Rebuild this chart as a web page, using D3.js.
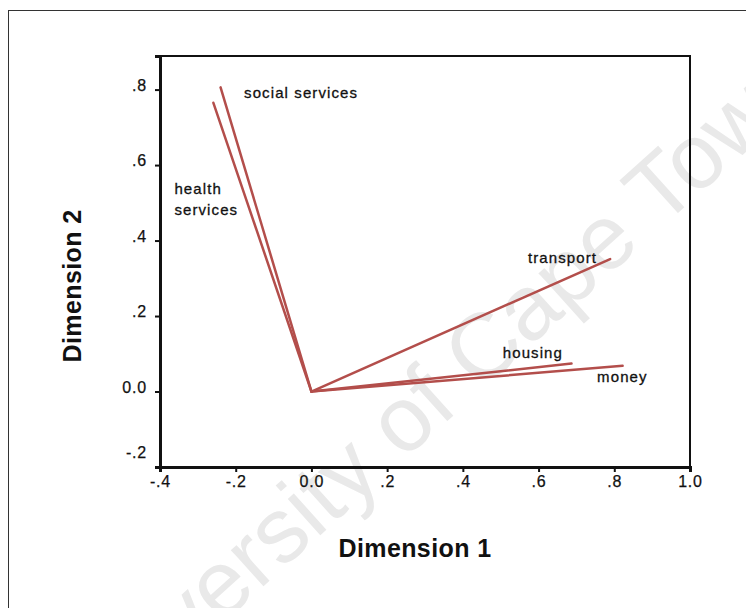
<!DOCTYPE html>
<html>
<head>
<meta charset="utf-8">
<script src="https://cdn.jsdelivr.net/npm/d3@7"></script>
<style>
  html, body { margin: 0; padding: 0; background: #fff; }
  svg { display: block; font-family: "Liberation Sans", Arial, sans-serif; }
</style>
</head>
<body>
<svg id="chart" width="746" height="608"></svg>
<script>
// Variables and their loadings on the two dimensions
const variables = ["social services", "health services", "transport", "housing", "money"];
const dim1 = [-0.24, -0.259, 0.789, 0.687, 0.822];
const dim2 = [0.806, 0.765, 0.351, 0.074, 0.068];

const xTicks = [-0.4, -0.2, 0.0, 0.2, 0.4, 0.6, 0.8, 1.0];
const xTickLabels = ["-.4", "-.2", "0.0", ".2", ".4", ".6", ".8", "1.0"];
const yTicks = [-0.2, 0.0, 0.2, 0.4, 0.6, 0.8];
const yTickLabels = ["-.2", "0.0", ".2", ".4", ".6", ".8"];

const FONT = "'Liberation Sans', Arial, sans-serif";
const svg = d3.select("#chart");

// outer figure frame
svg.append("rect")
  .attr("x", 8.5).attr("y", 10.5)
  .attr("width", 746).attr("height", 608)
  .attr("fill", "none").attr("stroke", "#333").attr("stroke-width", 1);

// faint watermark
svg.append("text")
  .attr("transform", "translate(84,748) rotate(-42)")
  .attr("font-family", FONT)
  .attr("font-size", 92)
  .attr("fill", "#e9e9e9")
  .text("University of Cape Town");

const plot = { left: 160, right: 690, top: 56, bottom: 467 };
const x = d3.scaleLinear().domain([-0.4, 1.0]).range([plot.left, plot.right]);
const y = d3.scaleLinear().domain([-0.2, 0.889]).range([plot.bottom, plot.top]);

// plot box
svg.append("rect")
  .attr("x", plot.left).attr("y", plot.top)
  .attr("width", plot.right - plot.left).attr("height", plot.bottom - plot.top)
  .attr("fill", "none").attr("stroke", "#111").attr("stroke-width", 2);

// axes
const xAxis = d3.axisBottom(x).tickValues(xTicks)
  .tickFormat((d, i) => xTickLabels[i]).tickSize(5).tickPadding(4);
const gx = svg.append("g").attr("transform", `translate(0,${plot.bottom})`).call(xAxis);
gx.select(".domain").attr("stroke", "#111").attr("stroke-width", 3);
gx.selectAll(".tick line").attr("stroke", "#111").attr("stroke-width", 2);
gx.selectAll(".tick text").attr("font-size", 16).attr("fill", "#111")
  .attr("font-family", FONT).attr("letter-spacing", "0.8px")
  .attr("stroke", "#111").attr("stroke-width", 0.25);

const yAxis = d3.axisLeft(y).tickValues(yTicks)
  .tickFormat((d, i) => yTickLabels[i]).tickSize(5).tickPadding(8);
const gy = svg.append("g").attr("transform", `translate(${plot.left},0)`).call(yAxis);
gy.select(".domain").attr("stroke", "#111").attr("stroke-width", 3);
gy.selectAll(".tick line").attr("stroke", "#111").attr("stroke-width", 2);
gy.selectAll(".tick text").attr("font-size", 16).attr("fill", "#111")
  .attr("font-family", FONT).attr("letter-spacing", "0.8px").attr("dy", "0.03em")
  .attr("stroke", "#111").attr("stroke-width", 0.25);
// lowest label sits above the bottom axis line
gy.selectAll(".tick").filter(d => d === -0.2).select("text").attr("dy", "-0.6em");
gy.selectAll(".tick").filter(d => d === -0.2).select("line").remove();

// loading vectors from origin
svg.append("g").selectAll("line")
  .data(variables)
  .join("line")
  .attr("x1", x(0)).attr("y1", y(0))
  .attr("x2", (d, i) => x(dim1[i]))
  .attr("y2", (d, i) => y(dim2[i]))
  .attr("stroke", "#b34e4b")
  .attr("stroke-width", 2.5)
  .attr("stroke-linecap", "round");

// variable labels, offset from each vector's tip
const labelPos = {
  "social services": { dx: 23.5, dy: 11, anchor: "start" },
  "transport": { dx: -13, dy: 4, anchor: "end" },
  "housing": { dx: -8.5, dy: -5.5, anchor: "end" },
  "money": { dx: -25.5, dy: 16, anchor: "start" }
};
const lbl = svg.append("g")
  .attr("font-size", 15).attr("fill", "#111").attr("letter-spacing", "1.1px")
  .attr("stroke", "#111").attr("stroke-width", 0.3);
variables.forEach((v, i) => {
  if (v === "health services") {
    const lx = x(dim1[i]) - 39;
    const t = lbl.append("text").attr("x", lx).attr("y", y(dim2[i]) + 91);
    t.append("tspan").attr("x", lx).text("health");
    t.append("tspan").attr("x", lx).attr("dy", 21.7).text("services");
  } else {
    const p = labelPos[v];
    lbl.append("text")
      .attr("x", x(dim1[i]) + p.dx).attr("y", y(dim2[i]) + p.dy)
      .attr("text-anchor", p.anchor)
      .text(v);
  }
});

// axis titles
svg.append("text")
  .attr("x", 415).attr("y", 557)
  .attr("text-anchor", "middle")
  .attr("font-size", 25).attr("font-weight", "bold").attr("fill", "#111")
  .attr("letter-spacing", "0.4px")
  .text("Dimension 1");

svg.append("text")
  .attr("transform", "translate(81,286) rotate(-90)")
  .attr("text-anchor", "middle")
  .attr("font-size", 25).attr("font-weight", "bold").attr("fill", "#111")
  .attr("letter-spacing", "0.4px")
  .text("Dimension 2");
</script>
</body>
</html>
